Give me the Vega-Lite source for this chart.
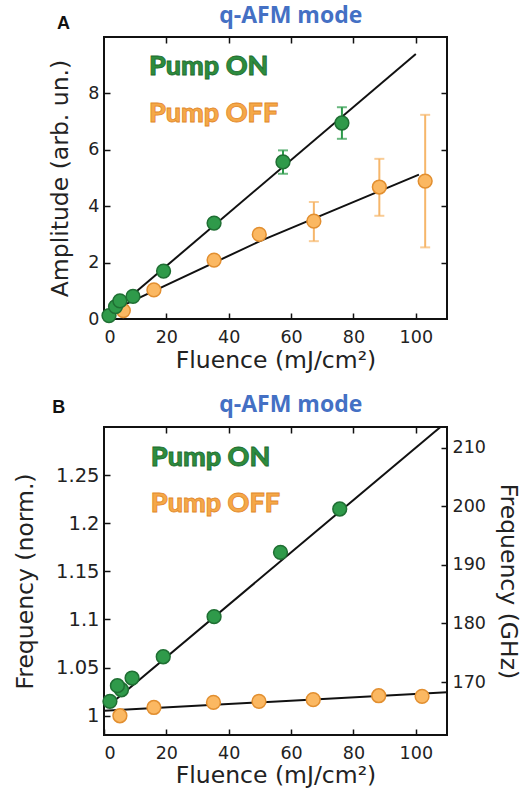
{
 "$schema": "https://vega.github.io/schema/vega-lite/v6.json",
 "padding": {"left": 12, "top": 4, "right": 0, "bottom": 0},
 "background": "white",
 "spacing": 19,
 "config": {
  "view": {"stroke": "#111", "strokeWidth": 2},
  "axis": {"domain": false, "grid": false, "tickColor": "#111", "tickWidth": 1.5, "tickSize": 6, "offset": -6, "labelFont": "DejaVu Sans", "labelFontSize": 17.5, "labelColor": "#222", "labelPadding": 5, "titleFont": "DejaVu Sans", "titleFontSize": 23.5, "titleFontWeight": "normal", "titleColor": "#222"}
 },
 "datasets": {
  "lineA": [
   {"s": "OFF", "f": 1, "a": 0.22}, {"s": "OFF", "f": 50, "a": 2.76}, {"s": "OFF", "f": 101, "a": 5.12},
   {"s": "ON", "f": 0, "a": 0.0}, {"s": "ON", "f": 100, "a": 9.4}
  ],
  "ptsA": [
   {"s": "OFF", "f": 6.2, "a": 0.30}, {"s": "OFF", "f": 16.0, "a": 1.03}, {"s": "OFF", "f": 35.3, "a": 2.09},
   {"s": "OFF", "f": 49.8, "a": 3.0, "lo": 2.88, "hi": 3.12}, {"s": "OFF", "f": 67.3, "a": 3.47, "lo": 2.76, "hi": 4.15},
   {"s": "OFF", "f": 88.3, "a": 4.68, "lo": 3.66, "hi": 5.68}, {"s": "OFF", "f": 103.0, "a": 4.89, "lo": 2.54, "hi": 7.24},
   {"s": "ON", "f": 1.6, "a": 0.12}, {"s": "ON", "f": 3.7, "a": 0.44}, {"s": "ON", "f": 5.1, "a": 0.64},
   {"s": "ON", "f": 9.3, "a": 0.80}, {"s": "ON", "f": 19.1, "a": 1.70}, {"s": "ON", "f": 35.3, "a": 3.40},
   {"s": "ON", "f": 57.4, "a": 5.57, "lo": 5.15, "hi": 5.98}, {"s": "ON", "f": 76.3, "a": 6.95, "lo": 6.39, "hi": 7.51}
  ],
  "lineB": [
   {"s": "OFF", "f": 0, "v": 1.0052}, {"s": "OFF", "f": 110, "v": 1.0244},
   {"s": "ON", "f": 2, "v": 1.012}, {"s": "ON", "f": 107.9, "v": 1.3}
  ],
  "ptsB": [
   {"s": "OFF", "f": 5.1, "v": 1.000}, {"s": "OFF", "f": 16.0, "v": 1.0086}, {"s": "OFF", "f": 35.1, "v": 1.0138},
   {"s": "OFF", "f": 49.7, "v": 1.015}, {"s": "OFF", "f": 67.1, "v": 1.0167}, {"s": "OFF", "f": 88.1, "v": 1.0208},
   {"s": "OFF", "f": 102.0, "v": 1.0202},
   {"s": "ON", "f": 1.9, "v": 1.015}, {"s": "ON", "f": 5.6, "v": 1.027}, {"s": "ON", "f": 4.3, "v": 1.0312},
   {"s": "ON", "f": 9.0, "v": 1.0392}, {"s": "ON", "f": 19.0, "v": 1.0613}, {"s": "ON", "f": 35.3, "v": 1.1029},
   {"s": "ON", "f": 56.6, "v": 1.1698}, {"s": "ON", "f": 75.6, "v": 1.2148}
  ]
 },
 "vconcat": [
  {
   "width": 343, "height": 282,
   "layer": [
    {"data": {"name": "lineA"}, "mark": {"type": "line", "color": "#111", "strokeWidth": 2},
     "encoding": {
      "x": {"field": "f", "type": "quantitative", "scale": {"domain": [0, 110], "nice": false}, "axis": {"orient": "bottom", "values": [0, 20, 40, 60, 80, 100], "labelPadding": 9, "title": "Fluence (mJ/cm²)", "titlePadding": 3}},
      "y": {"field": "a", "type": "quantitative", "scale": {"domain": [0, 10], "nice": false}, "axis": {"orient": "left", "values": [0, 2, 4, 6, 8], "title": "Amplitude (arb. un.)", "titlePadding": 15}},
      "detail": {"field": "s"}}},
    {"data": {"name": "lineA"}, "mark": {"type": "line", "opacity": 0},
     "encoding": {
      "x": {"field": "f", "type": "quantitative", "scale": {"domain": [0, 110], "nice": false}, "axis": {"orient": "top", "values": [20, 40, 60, 80, 100], "labels": false, "title": null}},
      "y": {"field": "a", "type": "quantitative", "scale": {"domain": [0, 10], "nice": false}, "axis": {"orient": "right", "values": [2, 4, 6, 8], "labels": false, "title": null}},
      "detail": {"field": "s"}}},
    {"data": {"name": "ptsA"}, "transform": [{"filter": "isValid(datum.lo)"}],
     "mark": {"type": "errorbar", "ticks": {"size": 10}, "thickness": 2},
     "encoding": {
      "x": {"field": "f", "type": "quantitative", "scale": {"domain": [0, 110], "nice": false}, "axis": null},
      "y": {"field": "lo", "type": "quantitative", "scale": {"domain": [0, 10], "nice": false}, "axis": null},
      "y2": {"field": "hi"},
      "color": {"field": "s", "type": "nominal", "scale": {"domain": ["ON", "OFF"], "range": ["#2c9a4a", "#f6b66a"]}, "legend": null}}},
    {"data": {"name": "ptsA"}, "mark": {"type": "circle", "size": 190, "strokeWidth": 1.5, "opacity": 1},
     "encoding": {
      "x": {"field": "f", "type": "quantitative", "scale": {"domain": [0, 110], "nice": false}, "axis": null},
      "y": {"field": "a", "type": "quantitative", "scale": {"domain": [0, 10], "nice": false}, "axis": null},
      "fill": {"field": "s", "type": "nominal", "scale": {"domain": ["ON", "OFF"], "range": ["#2f9a4a", "#fbb862"]}, "legend": null},
      "stroke": {"field": "s", "type": "nominal", "scale": {"domain": ["ON", "OFF"], "range": ["#1f6f33", "#e28f30"]}, "legend": null}}},
    {"data": {"values": [{"f": 14.4, "a": 8.64, "t": "Pump ON"}]},
     "mark": {"type": "text", "font": "Lato", "fontWeight": 900, "fontSize": 27, "align": "left", "baseline": "alphabetic", "fill": "#2d8c3e", "stroke": "#1c6a2c", "strokeWidth": 0.8},
     "encoding": {
      "x": {"field": "f", "type": "quantitative", "scale": {"domain": [0, 110], "nice": false}, "axis": null},
      "y": {"field": "a", "type": "quantitative", "scale": {"domain": [0, 10], "nice": false}, "axis": null},
      "text": {"field": "t"}}},
    {"data": {"values": [{"f": 14.4, "a": 6.98, "t": "Pump OFF"}]},
     "mark": {"type": "text", "font": "Lato", "fontWeight": 900, "fontSize": 27, "align": "left", "baseline": "alphabetic", "fill": "#f5a848", "stroke": "#e2882a", "strokeWidth": 0.8},
     "encoding": {
      "x": {"field": "f", "type": "quantitative", "scale": {"domain": [0, 110], "nice": false}, "axis": null},
      "y": {"field": "a", "type": "quantitative", "scale": {"domain": [0, 10], "nice": false}, "axis": null},
      "text": {"field": "t"}}},
    {"data": {"values": [{"f": 59.9, "a": 10.48, "t": "q-AFM mode"}]},
     "mark": {"type": "text", "font": "Open Sans", "fontWeight": "bold", "fontSize": 23, "align": "center", "baseline": "alphabetic", "color": "#4470c4"},
     "encoding": {
      "x": {"field": "f", "type": "quantitative", "scale": {"domain": [0, 110], "nice": false}, "axis": null},
      "y": {"field": "a", "type": "quantitative", "scale": {"domain": [0, 10], "nice": false}, "axis": null},
      "text": {"field": "t"}}},
    {"data": {"values": [{"f": -13, "a": 10.45, "t": "A"}]},
     "mark": {"type": "text", "font": "Liberation Sans", "fontWeight": "bold", "fontSize": 18, "align": "center", "baseline": "middle", "color": "#111"},
     "encoding": {
      "x": {"field": "f", "type": "quantitative", "scale": {"domain": [0, 110], "nice": false}, "axis": null},
      "y": {"field": "a", "type": "quantitative", "scale": {"domain": [0, 10], "nice": false}, "axis": null},
      "text": {"field": "t"}}}
   ],
   "resolve": {"axis": {"x": "independent", "y": "independent"}}
  },
  {
   "width": 343, "height": 308,
   "layer": [
    {
     "layer": [
      {"data": {"name": "lineB"}, "mark": {"type": "line", "color": "#111", "strokeWidth": 2},
       "encoding": {
        "x": {"field": "f", "type": "quantitative", "scale": {"domain": [0, 110], "nice": false}, "axis": {"orient": "bottom", "values": [0, 20, 40, 60, 80, 100], "labelPadding": 9, "title": "Fluence (mJ/cm²)", "titlePadding": 2}},
        "y": {"field": "v", "type": "quantitative", "scale": {"domain": [0.98, 1.3], "nice": false, "zero": false}, "axis": {"orient": "left", "values": [1, 1.05, 1.1, 1.15, 1.2, 1.25], "format": "~g", "labelFontSize": 19.5, "title": "Frequency (norm.)", "titlePadding": 18}},
        "detail": {"field": "s"}}},
      {"data": {"name": "lineB"}, "mark": {"type": "line", "opacity": 0},
       "encoding": {
        "x": {"field": "f", "type": "quantitative", "scale": {"domain": [0, 110], "nice": false}, "axis": {"orient": "top", "values": [20, 40, 60, 80, 100], "labels": false, "title": null}},
        "y": {"field": "v", "type": "quantitative", "scale": {"domain": [0.98, 1.3], "nice": false, "zero": false}},
        "detail": {"field": "s"}}},
      {"data": {"name": "ptsB"}, "mark": {"type": "circle", "size": 190, "strokeWidth": 1.5, "opacity": 1},
       "encoding": {
        "x": {"field": "f", "type": "quantitative", "scale": {"domain": [0, 110], "nice": false}, "axis": null},
        "y": {"field": "v", "type": "quantitative", "scale": {"domain": [0.98, 1.3], "nice": false, "zero": false}},
        "fill": {"field": "s", "type": "nominal", "scale": {"domain": ["ON", "OFF"], "range": ["#2f9a4a", "#fbb862"]}, "legend": null},
        "stroke": {"field": "s", "type": "nominal", "scale": {"domain": ["ON", "OFF"], "range": ["#1f6f33", "#e28f30"]}, "legend": null}}},
      {"data": {"values": [{"f": 15, "v": 1.2595, "t": "Pump ON"}]},
       "mark": {"type": "text", "font": "Lato", "fontWeight": 900, "fontSize": 27, "align": "left", "baseline": "alphabetic", "fill": "#2d8c3e", "stroke": "#1c6a2c", "strokeWidth": 0.8},
       "encoding": {
        "x": {"field": "f", "type": "quantitative", "scale": {"domain": [0, 110], "nice": false}, "axis": null},
        "y": {"field": "v", "type": "quantitative", "scale": {"domain": [0.98, 1.3], "nice": false, "zero": false}},
        "text": {"field": "t"}}},
      {"data": {"values": [{"f": 15, "v": 1.2117, "t": "Pump OFF"}]},
       "mark": {"type": "text", "font": "Lato", "fontWeight": 900, "fontSize": 27, "align": "left", "baseline": "alphabetic", "fill": "#f5a848", "stroke": "#e2882a", "strokeWidth": 0.8},
       "encoding": {
        "x": {"field": "f", "type": "quantitative", "scale": {"domain": [0, 110], "nice": false}, "axis": null},
        "y": {"field": "v", "type": "quantitative", "scale": {"domain": [0.98, 1.3], "nice": false, "zero": false}},
        "text": {"field": "t"}}},
      {"data": {"values": [{"f": 59.9, "v": 1.3156, "t": "q-AFM mode"}]},
       "mark": {"type": "text", "font": "Open Sans", "fontWeight": "bold", "fontSize": 23, "align": "center", "baseline": "alphabetic", "color": "#4470c4"},
       "encoding": {
        "x": {"field": "f", "type": "quantitative", "scale": {"domain": [0, 110], "nice": false}, "axis": null},
        "y": {"field": "v", "type": "quantitative", "scale": {"domain": [0.98, 1.3], "nice": false, "zero": false}},
        "text": {"field": "t"}}},
      {"data": {"values": [{"f": -14.5, "v": 1.3197, "t": "B"}]},
       "mark": {"type": "text", "font": "Liberation Sans", "fontWeight": "bold", "fontSize": 18, "align": "center", "baseline": "middle", "color": "#111"},
       "encoding": {
        "x": {"field": "f", "type": "quantitative", "scale": {"domain": [0, 110], "nice": false}, "axis": null},
        "y": {"field": "v", "type": "quantitative", "scale": {"domain": [0.98, 1.3], "nice": false, "zero": false}},
        "text": {"field": "t"}}}
     ],
     "resolve": {"axis": {"x": "independent"}}
    },
    {"data": {"values": [{"g": 160.97}, {"g": 213.5}]}, "mark": {"type": "point", "opacity": 0},
     "encoding": {
      "y": {"field": "g", "type": "quantitative", "scale": {"domain": [160.97, 213.5], "nice": false, "zero": false}, "axis": {"orient": "right", "values": [170, 180, 190, 200, 210], "title": "Frequency (GHz)", "titlePadding": 10}}}}
   ],
   "resolve": {"scale": {"y": "independent"}, "axis": {"y": "independent"}}
  }
 ]
}
